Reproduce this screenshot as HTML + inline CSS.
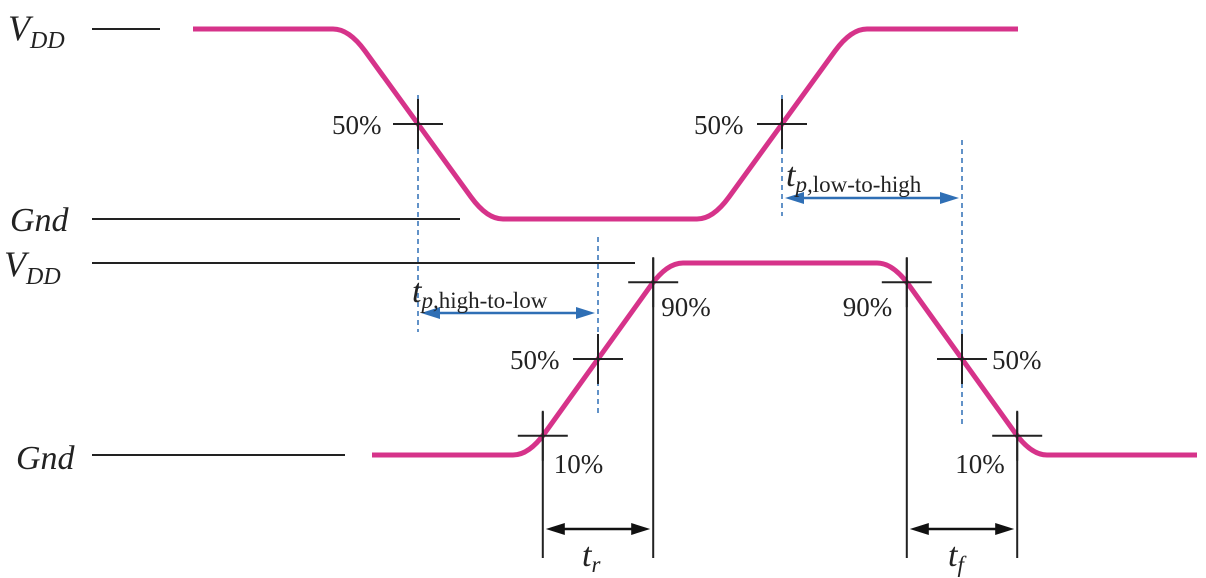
<!DOCTYPE html>
<html><head><meta charset="utf-8"><style>
html,body{margin:0;padding:0;background:#fff;width:1206px;height:578px;overflow:hidden}
text{font-family:"Liberation Serif",serif;fill:#222}
</style></head><body>
<svg id="c" width="1206" height="578" viewBox="0 0 1206 578">
<g id="ref"></g>
<g id="marks"></g>
<g id="labels">
<text x="8" y="40" font-size="36" font-style="italic">V<tspan font-size="24" dy="8">DD</tspan></text>
<text x="10" y="231" font-size="34" font-style="italic">Gnd</text>
<text x="4" y="276" font-size="36" font-style="italic">V<tspan font-size="24" dy="8">DD</tspan></text>
<text x="16" y="469" font-size="34" font-style="italic">Gnd</text>
<text x="412" y="302" font-size="34" font-style="italic">t<tspan font-size="23" dy="6">p,</tspan><tspan font-style="normal" font-size="23">high-to-low</tspan></text>
<text x="786" y="186" font-size="34" font-style="italic">t<tspan font-size="23" dy="6">p,</tspan><tspan font-style="normal" font-size="23">low-to-high</tspan></text>
<text x="582" y="566" font-size="34" font-style="italic">t<tspan font-size="23" dy="6">r</tspan></text>
<text x="948" y="566" font-size="34" font-style="italic">t<tspan font-size="23" dy="6">f</tspan></text>
</g>
</svg>
<script>
const NS='http://www.w3.org/2000/svg';
// data
const topLevels=[29,219];            // high, low y
const botLevels=[263,455];
const topEdges=[418,782];            // 50% crossing x: fall, rise
const botEdges=[598,962];            // rise, fall
const swingWidth=[138,138];
const topSpan=[193,1018];
const botSpan=[372,1197];
const pctLabels=['10%','50%','90%'];
const pct=[0.1,0.5,0.9];

const ref=document.getElementById('ref'),marks=document.getElementById('marks'),labels=document.getElementById('labels');
function el(t,a,p){const e=document.createElementNS(NS,t);for(const k in a)e.setAttribute(k,a[k]);(p||marks).appendChild(e);return e;}

let l;
l=el('line',{x1:92,y1:topLevels[0],x2:160,y2:topLevels[0],stroke:'#222','stroke-width':2},ref);


l=el('line',{x1:92,y1:topLevels[1],x2:460,y2:topLevels[1],stroke:'#222','stroke-width':2},ref);


l=el('line',{x1:92,y1:botLevels[0],x2:635,y2:botLevels[0],stroke:'#222','stroke-width':2},ref);


l=el('line',{x1:92,y1:botLevels[1],x2:345,y2:botLevels[1],stroke:'#222','stroke-width':2},ref);



function wave(span,levels,edges,startHigh){
  const r=16;let y=startHigh?levels[0]:levels[1];
  let d='M'+span[0]+','+y;
  edges.forEach((cx,i)=>{
    const w=swingWidth[i];const y2=(y===levels[0])?levels[1]:levels[0];
    const x0=cx-w/2,x1=cx+w/2;const s=(y2-y)/w;
    d+=' L'+(x0-r)+','+y+' Q'+x0+','+y+' '+(x0+r)+','+(y+s*r);
    d+=' L'+(x1-r)+','+(y2-s*r)+' Q'+x1+','+y2+' '+(x1+r)+','+y2;
    y=y2;
  });
  d+=' L'+span[1]+','+y;return d;
}
function cross(x,y){el('line',{x1:x-25,y1:y,x2:x+25,y2:y,stroke:'#222','stroke-width':2});el('line',{x1:x,y1:y-25,x2:x,y2:y+25,stroke:'#222','stroke-width':2});}
function yAt(levels,p){return levels[1]-(levels[1]-levels[0])*p;}

function dash(x,y1,y2){const d=el('line',{x1:x,y1:y1,x2:x,y2:y2,stroke:'#2f6fb5','stroke-width':1.5,'stroke-dasharray':'5,4'});}
dash(topEdges[0],95,332);dash(botEdges[0],237,416);dash(topEdges[1],95,216);dash(botEdges[1],140,426);

function arrow(x1,x2,y,col,name){
  const g=el('g',{});
  el('line',{x1:x1+12,y1:y,x2:x2-12,y2:y,stroke:col,'stroke-width':2.5},g);
  el('path',{d:`M${x1+3},${y} L${x1+22},${y-6} L${x1+22},${y+6}Z`,fill:col},g);
  el('path',{d:`M${x2-3},${y} L${x2-22},${y-6} L${x2-22},${y+6}Z`,fill:col},g);
}
arrow(topEdges[0],botEdges[0],313,'#2f6fb5','tp-high-to-low-arrow');
arrow(topEdges[1],botEdges[1],198,'#2f6fb5','tp-low-to-high-arrow');

const w1=el('path',{d:wave(topSpan,topLevels,topEdges,true),fill:'none',stroke:'#d6338a','stroke-width':5,'stroke-linejoin':'round'});


const w2=el('path',{d:wave(botSpan,botLevels,botEdges,false),fill:'none',stroke:'#d6338a','stroke-width':5,'stroke-linejoin':'round'});



topEdges.forEach(cx=>{cross(cx,(topLevels[0]+topLevels[1])/2);});
function txt(x,y,s,name){const t=el('text',{x:x,y:y,'font-size':27},labels);t.textContent=s;}
txt(topEdges[0]-86,134,'50%','top-fall-50-label');
txt(topEdges[1]-88,134,'50%','top-rise-50-label');

const wr=swingWidth[0],wf=swingWidth[1];
pct.forEach((p,i)=>{
  const xr=botEdges[0]-wr/2+wr*p, y=yAt(botLevels,p);cross(xr,y);
  const xf=botEdges[1]+wf/2-wf*p;cross(xf,y);
});
const xr10=botEdges[0]-wr/2+wr*0.1,xr90=botEdges[0]-wr/2+wr*0.9;
const xf90=botEdges[1]+wf/2-wf*0.9,xf10=botEdges[1]+wf/2-wf*0.1;
txt(xr10+11,473,pctLabels[0],'rise-10-label');
txt(botEdges[0]-88,369,pctLabels[1],'rise-50-label');
txt(xr90+8,316,pctLabels[2],'rise-90-label');
txt(xf10-62,473,pctLabels[0],'fall-10-label');
txt(botEdges[1]+30,369,pctLabels[1],'fall-50-label');
txt(xf90-64,316,pctLabels[2],'fall-90-label');
[xr10,xr90,xf90,xf10].forEach(x=>el('line',{x1:x,y1:(x===xr90||x===xf90)?258:412,x2:x,y2:558,stroke:'#222','stroke-width':2}));
arrow(xr10,xr90,529,'#111','rise-time-arrow');
arrow(xf90,xf10,529,'#111','fall-time-arrow');
</script>
</body></html>
